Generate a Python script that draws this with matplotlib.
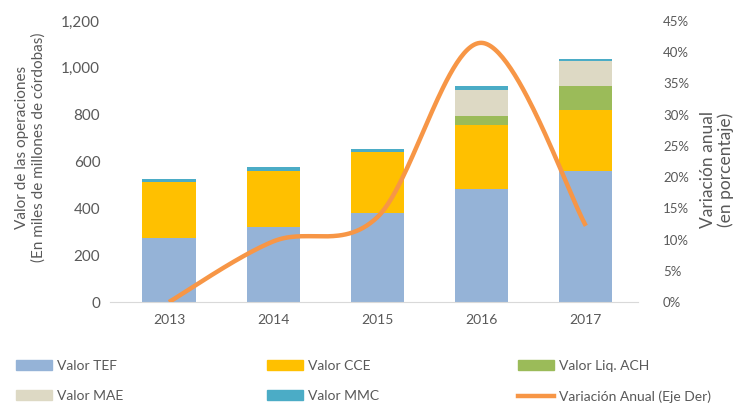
import numpy as np
import matplotlib
matplotlib.use("Agg")
import matplotlib.pyplot as plt
from matplotlib.patches import Patch
from matplotlib.lines import Line2D
from matplotlib.ticker import FuncFormatter

plt.rcParams['font.family'] = ['Lato', 'DejaVu Sans']

years = ['2013', '2014', '2015', '2016', '2017']
tef = [273, 322, 380, 484, 558]
cce = [241, 236, 259, 273, 263]
liq_ach = [0, 0, 0, 37, 101]
mae = [0, 0, 0, 110, 107]
mmc = [10, 17, 14, 20, 8]
variacion = [0.0, 9.7, 13.6, 41.5, 12.2]

series = [
    ('Valor TEF', tef, '#95B3D7'),
    ('Valor CCE', cce, '#FFC000'),
    ('Valor Liq. ACH', liq_ach, '#9BBB59'),
    ('Valor MAE', mae, '#DDD9C4'),
    ('Valor MMC', mmc, '#4BACC6'),
]
line_label = 'Variación Anual (Eje Der)'
line_color = '#F79646'
grey = '#595959'


def smooth(xs, ys, n=60):
    # curva suavizada tipo Excel (Catmull-Rom -> Bezier)
    pts = np.column_stack([xs, ys]).astype(float)
    pad = np.vstack([pts[0], pts, pts[-1]])
    out = []
    for i in range(len(pts) - 1):
        p0, p1, p2, p3 = pad[i], pad[i + 1], pad[i + 2], pad[i + 3]
        b1 = p1 + (p2 - p0) / 6
        b2 = p2 - (p3 - p1) / 6
        t = np.linspace(0, 1, n)[:, None]
        seg = ((1 - t) ** 3) * p1 + 3 * ((1 - t) ** 2) * t * b1 + 3 * (1 - t) * t ** 2 * b2 + t ** 3 * p2
        out.append(seg)
    c = np.vstack(out)
    return c[:, 0], c[:, 1]


W, H = 735, 404
fig = plt.figure(figsize=(W / 100, H / 100), dpi=100)
ax = fig.add_axes([110 / W, 1 - 302 / H, 528 / W, 281 / H])

x = np.arange(len(years))
bottom = np.zeros(len(years))
for name, vals, col in series:
    ax.bar(x, vals, width=0.51, bottom=bottom, color=col)
    bottom += np.array(vals)

ax.set_xlim(-0.566, 4.5)
ax.set_ylim(0, 1200)
ax.set_yticks(range(0, 1201, 200))
ax.yaxis.set_major_formatter(FuncFormatter(lambda v, p: f'{int(v):,}'))
ax.set_xticks(x)
ax.set_xticklabels(years)
ax.tick_params(axis='x', length=0, labelsize=10, colors=grey, pad=9)
ax.tick_params(axis='y', length=0, labelsize=11, colors=grey, pad=7)
for s in ['top', 'left', 'right']:
    ax.spines[s].set_visible(False)
ax.spines['bottom'].set_color('#D9D9D9')

ax2 = ax.twinx()
sx, sy = smooth(x, variacion)
ax2.plot(sx, sy, color=line_color, lw=3.2, solid_capstyle='butt')
ax2.set_ylim(0, 45)
ax2.set_yticks(range(0, 46, 5))
ax2.yaxis.set_major_formatter(FuncFormatter(lambda v, p: f'{int(v)}%'))
ax2.tick_params(length=0, labelsize=9.5, colors=grey, pad=18)
for s in ['top', 'left', 'right', 'bottom']:
    ax2.spines[s].set_visible(False)

fig.text(30 / W, 1 - 147 / H, 'Valor de las operaciones\n(En miles de millones de córdobas)',
         rotation=90, ha='center', va='center', fontsize=11, color=grey,
         linespacing=1.2, multialignment='center')
fig.text(717 / W, 1 - 170 / H, 'Variación anual\n(en porcentaje)',
         rotation=90, ha='center', va='center', fontsize=12.5, color=grey,
         linespacing=1.05, multialignment='center')

# leyenda: una columna por legend para fijar posiciones
cols = [
    (16, [Patch(color=series[0][2]), Patch(color=series[3][2])], [series[0][0], series[3][0]]),
    (267, [Patch(color=series[1][2]), Patch(color=series[4][2])], [series[1][0], series[4][0]]),
    (518, [Patch(color=series[2][2]), Line2D([], [], color=line_color, lw=3.2)], [series[2][0], line_label]),
]
for xpx, hs, ls in cols:
    fig.legend(hs, ls, loc='upper left', bbox_to_anchor=(xpx / W, 1 - 360 / H),
               frameon=False, fontsize=10, labelcolor=grey, handlelength=2.6,
               handleheight=0.77, handletextpad=0.35, labelspacing=1.3,
               borderpad=0, borderaxespad=0)

fig.savefig('out.png', dpi=100)
